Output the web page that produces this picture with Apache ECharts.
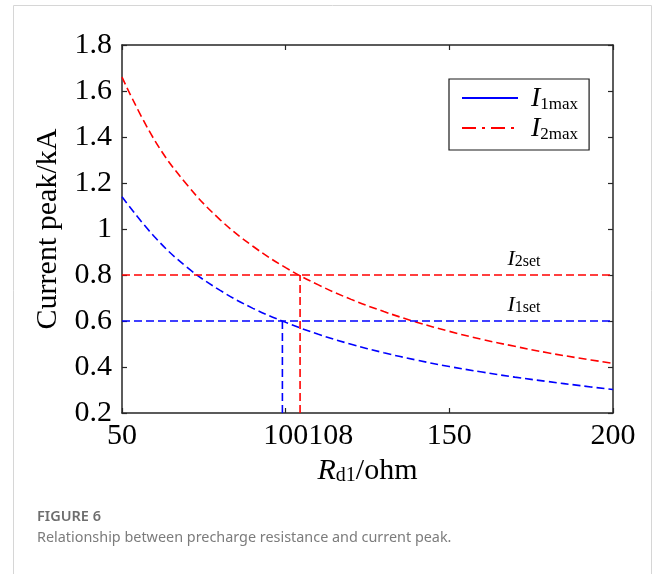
<!DOCTYPE html>
<html>
<head>
<meta charset="utf-8">
<title>Precharge resistance vs current peak</title>
<script src="https://cdn.jsdelivr.net/npm/echarts@6/dist/echarts.min.js"></script>
<style>
  html, body { margin: 0; padding: 0; background: #fff; }
  #chart { width: 656px; height: 574px; }
</style>
</head>
<body>
<div id="chart"></div>
<script>
// resistance Rd1 (ohm)
const rValues = [50, 60, 70, 80, 90, 100, 110, 120, 130, 140, 150, 160, 170, 180, 190, 200];
// peak currents (kA)
const i1max = [1.14, 0.965, 0.832, 0.733, 0.655, 0.594, 0.542, 0.499, 0.462, 0.43, 0.402, 0.378, 0.356, 0.337, 0.319, 0.302];
const i2max = [1.66, 1.385, 1.19, 1.04, 0.925, 0.832, 0.757, 0.694, 0.641, 0.595, 0.555, 0.52, 0.49, 0.462, 0.438, 0.416];
// set values and the resistances where the curves cross them
const i1set = 0.6;
const i2set = 0.8;
const r1cross = 99;
const r2cross = 104.4;
// tick labels
const xTicks = [50, 100, 150, 200];
const xExtraLabel = '108';
const yTicks = [0.2, 0.4, 0.6, 0.8, 1, 1.2, 1.4, 1.6, 1.8];

const serif = '"Liberation Serif", "Times New Roman", serif';
const dash = [8, 4];

const chart = echarts.init(document.getElementById('chart'));

function zip(xs, ys) {
  return xs.map((x, i) => [x, ys[i]]);
}

const option = {
  animation: false,
  graphic: [
    {
      type: 'rect',
      shape: { x: 13.5, y: 5.5, width: 638, height: 600 },
      style: { fill: 'none', stroke: '#d6d6d6', lineWidth: 1 },
      silent: true
    }
  ],
  title: {
    text: 'FIGURE 6',
    subtext: 'Relationship between precharge resistance and current peak.',
    left: 32,
    top: 504,
    itemGap: 7,
    textStyle: {
      fontFamily: '"Noto Sans", "Open Sans", sans-serif',
      fontSize: 14.5,
      fontWeight: 600,
      color: '#6e6e6e'
    },
    subtextStyle: {
      fontFamily: '"Noto Sans", "Open Sans", sans-serif',
      fontSize: 14.4,
      color: '#7c7c7c'
    }
  },
  grid: {
    left: 122,
    right: 43,
    top: 45,
    bottom: 161
  },
  legend: {
    left: 449,
    top: 79,
    orient: 'vertical',
    padding: [6, 11, 7, 12],
    itemWidth: 56,
    itemHeight: 14,
    itemGap: 2,
    borderColor: '#1a1a1a',
    borderWidth: 1.2,
    borderRadius: 0,
    itemStyle: { opacity: 0 },
    data: [
      { name: 'I1max', lineStyle: { type: 'solid', width: 2 } },
      { name: 'I2max', lineStyle: { type: [14, 6, 3, 6], width: 2 } }
    ],
    formatter: name => '{i|I}{s|' + name.slice(1) + '}',
    textStyle: {
      padding: [0, 0, 0, 8],
      rich: {
        i: { fontFamily: serif, fontStyle: 'italic', fontSize: 28, lineHeight: 30, color: '#000', verticalAlign: 'bottom' },
        s: { fontFamily: serif, fontSize: 17, lineHeight: 24, color: '#000', verticalAlign: 'bottom' }
      }
    }
  },
  xAxis: [
    {
      type: 'value',
      min: 50,
      max: 200,
      interval: 50,
      name: '{r|R}{s|d1}{n|/ohm}',
      nameLocation: 'middle',
      nameGap: 37,
      nameTextStyle: {
        rich: {
          r: { fontFamily: serif, fontStyle: 'italic', fontSize: 30, lineHeight: 34, color: '#000', verticalAlign: 'bottom' },
          s: { fontFamily: serif, fontSize: 20, lineHeight: 28, color: '#000', verticalAlign: 'bottom' },
          n: { fontFamily: serif, fontSize: 30, lineHeight: 34, color: '#000', verticalAlign: 'bottom' }
        }
      },
      axisLine: { show: true, onZero: false, lineStyle: { color: '#262626', width: 1.5 } },
      axisTick: { show: true, inside: true, length: 5, lineStyle: { color: '#262626', width: 1.2 } },
      splitLine: { show: false },
      axisLabel: {
        margin: 8,
        showMinLabel: true,
        showMaxLabel: true,
        formatter: v => {
          if (xTicks.indexOf(v) < 0) return '';
          if (v === 100) return '{pad|}{n|' + v + xExtraLabel + '}';
          return '{n|' + v + '}';
        },
        rich: {
          n: { fontFamily: serif, fontSize: 30, color: '#000' },
          pad: { width: 45 }
        }
      }
    },
    {
      type: 'value',
      position: 'top',
      min: 50,
      max: 200,
      interval: 50,
      axisLine: { show: true, onZero: false, lineStyle: { color: '#262626', width: 1.5 } },
      axisTick: { show: true, inside: true, length: 5, lineStyle: { color: '#262626', width: 1.2 } },
      axisLabel: { show: false },
      splitLine: { show: false }
    }
  ],
  yAxis: [
    {
      type: 'value',
      min: 0.2,
      max: 1.8,
      interval: 0.2,
      name: 'Current peak/kA',
      nameLocation: 'middle',
      nameGap: 58,
      nameTextStyle: { fontFamily: serif, fontSize: 30, color: '#000' },
      axisLine: { show: true, onZero: false, lineStyle: { color: '#262626', width: 1.5 } },
      axisTick: { show: true, inside: true, length: 5, lineStyle: { color: '#262626', width: 1.2 } },
      splitLine: { show: false },
      axisLabel: {
        margin: 10,
        showMinLabel: true,
        showMaxLabel: true,
        fontFamily: serif,
        fontSize: 30,
        color: '#000',
        formatter: v => {
          const t = yTicks.find(y => Math.abs(y - v) < 1e-6);
          return t === undefined ? '' : String(t);
        }
      }
    },
    {
      type: 'value',
      position: 'right',
      min: 0.2,
      max: 1.8,
      interval: 0.2,
      axisLine: { show: true, onZero: false, lineStyle: { color: '#262626', width: 1.5 } },
      axisTick: { show: true, inside: true, length: 5, lineStyle: { color: '#262626', width: 1.2 } },
      axisLabel: { show: false },
      splitLine: { show: false }
    }
  ],
  series: [
    {
      name: 'I1max',
      type: 'line',
      smooth: 0.4,
      symbol: 'none',
      data: zip(rValues, i1max),
      lineStyle: { color: '#0000ff', width: 1.6, type: dash },
      itemStyle: { color: '#0000ff' }
    },
    {
      name: 'I2max',
      type: 'line',
      smooth: 0.4,
      symbol: 'none',
      data: zip(rValues, i2max),
      lineStyle: { color: '#ff0000', width: 1.6, type: dash },
      itemStyle: { color: '#ff0000' }
    },
    {
      name: 'I1set',
      type: 'line',
      symbol: 'none',
      data: [[50, i1set], [200, i1set]],
      lineStyle: { color: '#0000ff', width: 1.6, type: dash },
      markPoint: {
        symbol: 'circle',
        symbolSize: 0,
        data: [{ coord: [172.8, 0.675] }],
        label: {
          show: true,
          position: 'inside',
          formatter: '{i|I}{s|1set}',
          rich: {
            i: { fontFamily: serif, fontStyle: 'italic', fontSize: 22, lineHeight: 24, color: '#000', verticalAlign: 'bottom' },
            s: { fontFamily: serif, fontSize: 16, lineHeight: 20, color: '#000', verticalAlign: 'bottom' }
          }
        }
      }
    },
    {
      name: 'I2set',
      type: 'line',
      symbol: 'none',
      data: [[50, i2set], [200, i2set]],
      lineStyle: { color: '#ff0000', width: 1.6, type: dash },
      markPoint: {
        symbol: 'circle',
        symbolSize: 0,
        data: [{ coord: [172.8, 0.875] }],
        label: {
          show: true,
          position: 'inside',
          formatter: '{i|I}{s|2set}',
          rich: {
            i: { fontFamily: serif, fontStyle: 'italic', fontSize: 22, lineHeight: 24, color: '#000', verticalAlign: 'bottom' },
            s: { fontFamily: serif, fontSize: 16, lineHeight: 20, color: '#000', verticalAlign: 'bottom' }
          }
        }
      }
    },
    {
      name: 'R1cross',
      type: 'line',
      symbol: 'none',
      data: [[r1cross, 0.2], [r1cross, i1set]],
      lineStyle: { color: '#0000ff', width: 1.6, type: dash }
    },
    {
      name: 'R2cross',
      type: 'line',
      symbol: 'none',
      data: [[r2cross, 0.2], [r2cross, i2set]],
      lineStyle: { color: '#ff0000', width: 1.6, type: dash }
    }
  ]
};

chart.setOption(option);
</script>
</body>
</html>
